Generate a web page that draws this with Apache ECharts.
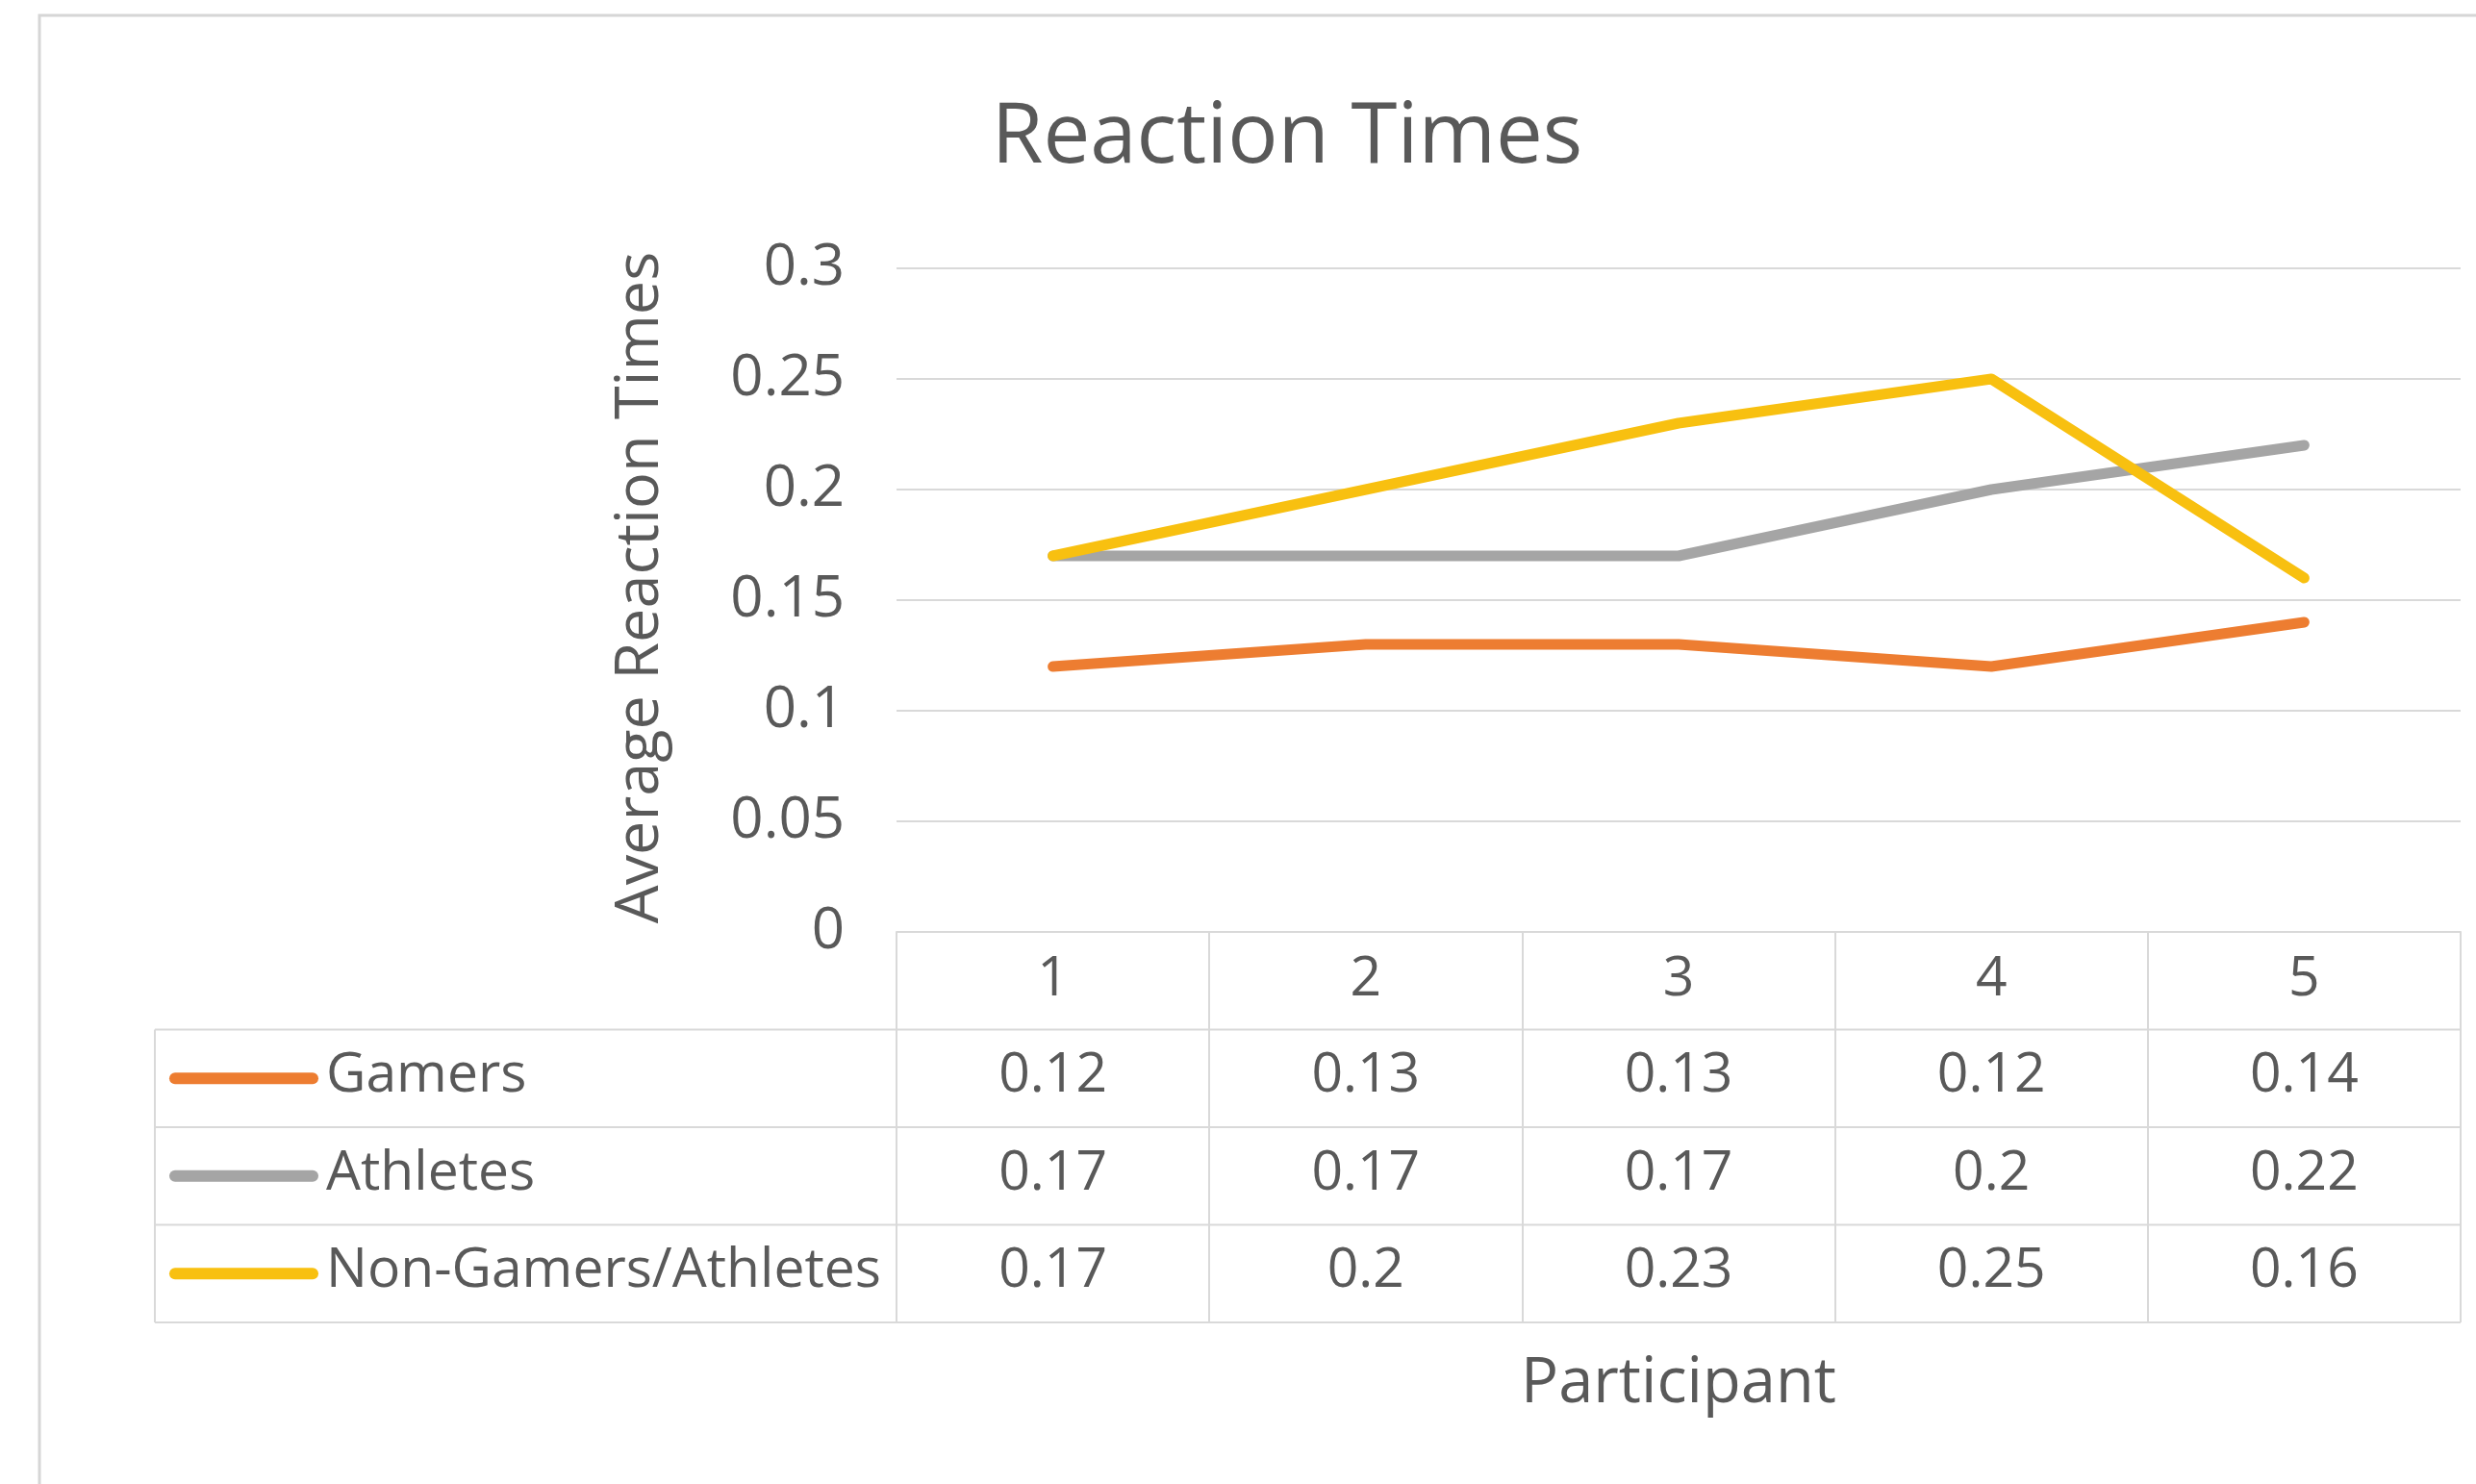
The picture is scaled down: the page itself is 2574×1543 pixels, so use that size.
<!DOCTYPE html>
<html>
<head>
<meta charset="utf-8">
<script src="https://cdn.jsdelivr.net/npm/echarts@6/dist/echarts.min.js"></script>
<style>
  html, body { margin: 0; padding: 0; background: #fff; }
  #chart { width: 2574px; height: 1543px; }
</style>
</head>
<body>
<div id="chart"></div>
<script>
const categories = ['1', '2', '3', '4', '5'];
const seriesNames = ['Gamers', 'Athletes', 'Non-Gamers/Athletes'];
const gamers = [0.12, 0.13, 0.13, 0.12, 0.14];
const athletes = [0.17, 0.17, 0.17, 0.2, 0.22];
const nonGamers = [0.17, 0.2, 0.23, 0.25, 0.16];
const colors = ['#ED7D31', '#A5A5A5', '#F8C010'];

const font = 'Open Sans';
const textColor = '#595959';
const lineColor = '#D9D9D9';

// layout of plot + data table
const plotLeft = 932, plotRight = 2558, plotTop = 279, plotBottom = 969;
const tableLeft = 161, rowH = 101.5;

var myChart = echarts.init(document.getElementById('chart'));

myChart.setOption({
  animation: false,
  backgroundColor: '#fff',
  textStyle: { fontFamily: font, color: textColor },
  title: {
    text: 'Reaction Times',
    left: 1333,
    textAlign: 'center',
    top: 96,
    textStyle: { fontFamily: font, fontSize: 87, fontWeight: 'normal', color: textColor }
  },
  legend: { show: false },
  grid: {
    left: plotLeft,
    right: 2574 - plotRight,
    top: plotTop,
    bottom: 1543 - plotBottom
  },
  xAxis: {
    type: 'category',
    data: categories,
    boundaryGap: true,
    name: 'Participant',
    nameLocation: 'middle',
    nameGap: 438,
    nameTextStyle: { fontFamily: font, fontSize: 65, color: textColor },
    axisLine: { show: true, lineStyle: { color: lineColor, width: 2 } },
    axisTick: {
      show: true,
      interval: 0,
      length: rowH * 4,
      lineStyle: { color: lineColor, width: 2 }
    },
    axisLabel: { fontFamily: font, fontSize: 57, color: textColor, margin: 21 },
    splitLine: { show: false }
  },
  yAxis: {
    type: 'value',
    min: 0,
    max: 0.3,
    interval: 0.05,
    name: 'Average Reaction Times',
    nameLocation: 'middle',
    nameRotate: 90,
    nameGap: 234,
    nameTextStyle: { fontFamily: font, fontSize: 63, color: textColor, padding: [0, 0, 0, 26] },
    axisLine: { show: false },
    axisTick: { show: false },
    axisLabel: { fontFamily: font, fontSize: 60, color: textColor, margin: 54 },
    splitLine: { lineStyle: { color: lineColor, width: 2 } }
  },
  series: [gamers, athletes, nonGamers].map((d, i) => ({
    name: seriesNames[i],
    type: 'line',
    data: d,
    symbol: 'none',
    color: colors[i],
    lineStyle: { width: 11, color: colors[i], cap: 'round', join: 'round' }
  }))
});

// data table below the axis
const rows = [gamers, athletes, nonGamers];
const graphics = [];
graphics.push({
  type: 'rect',
  shape: { x: 41, y: 16, width: 2700, height: 1700 },
  style: { fill: 'none', stroke: '#D6D6D6', lineWidth: 3 },
  silent: true, z: -10
});
for (let r = 0; r <= rows.length; r++) {
  const y = plotBottom + rowH * (r + 1);
  graphics.push({
    type: 'line',
    shape: { x1: tableLeft, y1: y, x2: plotRight, y2: y },
    style: { stroke: lineColor, lineWidth: 2 },
    silent: true
  });
}
graphics.push({
  type: 'line',
  shape: { x1: tableLeft, y1: plotBottom + rowH, x2: tableLeft, y2: plotBottom + rowH * 4 },
  style: { stroke: lineColor, lineWidth: 2 },
  silent: true
});
rows.forEach((d, r) => {
  const cy = plotBottom + rowH * (r + 1.5);
  graphics.push({
    type: 'line',
    shape: { x1: 182, y1: cy, x2: 325, y2: cy },
    style: { stroke: colors[r], lineWidth: 12, lineCap: 'round' },
    silent: true
  });
  graphics.push({
    type: 'text',
    x: 339, y: cy - 2,
    style: { text: seriesNames[r], fontFamily: font, fontSize: 57, fill: textColor, verticalAlign: 'middle', align: 'left' },
    silent: true
  });
  d.forEach((v, c) => {
    const cx = myChart.convertToPixel({ xAxisIndex: 0 }, categories[c]);
    graphics.push({
      type: 'text',
      x: cx, y: cy - 2,
      style: { text: String(v), fontFamily: font, fontSize: 57, fill: textColor, verticalAlign: 'middle', align: 'center' },
      silent: true
    });
  });
});
myChart.setOption({ graphic: graphics });
</script>
</body>
</html>
